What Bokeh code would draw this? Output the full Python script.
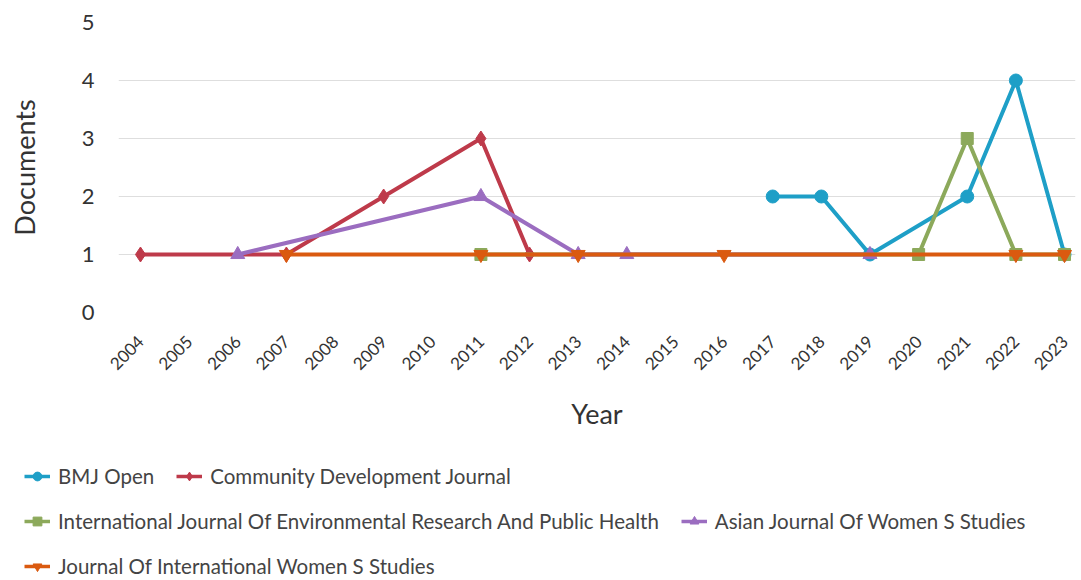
from bokeh.plotting import figure
from bokeh.models import Range1d, FixedTicker, Legend, LegendItem
from bokeh.layouts import column
from bokeh.embed import file_html
from bokeh.resources import INLINE
from math import pi

years = list(range(2004, 2024))
y_ticks = [0, 1, 2, 3, 4, 5]

bmj_years = [2017, 2018, 2019, 2021, 2022, 2023]
bmj_docs = [2, 2, 1, 2, 4, 1]

cdj_years = [2004, 2007, 2009, 2011, 2012]
cdj_docs = [1, 1, 2, 3, 1]

ijerph_years = [2011, 2020, 2021, 2022, 2023]
ijerph_docs = [1, 1, 3, 1, 1]

asian_years = [2006, 2011, 2013, 2014, 2019]
asian_docs = [1, 2, 1, 1, 1]

jiws_years = [2007, 2011, 2013, 2016, 2022, 2023]
jiws_docs = [1, 1, 1, 1, 1, 1]

names = ["BMJ Open", "Community Development Journal",
         "International Journal Of Environmental Research And Public Health",
         "Asian Journal Of Women S Studies",
         "Journal Of International Women S Studies"]

FONT = "Lato"
TXT = "#333333"

p = figure(width=1078, height=440, output_backend="svg", toolbar_location=None,
           x_range=Range1d(2003.548, 2023.226), y_range=Range1d(0, 5),
           min_border_left=118, min_border_right=3, min_border_top=22, min_border_bottom=128)
p.outline_line_color = None
p.xgrid.grid_line_color = None
p.ygrid.grid_line_color = "#dedede"
p.ygrid.grid_line_width = 1

p.xaxis.ticker = FixedTicker(ticks=years)
p.yaxis.ticker = FixedTicker(ticks=y_ticks)
p.xaxis.major_label_orientation = pi / 4
for ax in (p.xaxis, p.yaxis):
    ax.axis_line_color = None
    ax.major_tick_line_color = None
    ax.minor_tick_line_color = None
    ax.major_label_text_font = FONT
    ax.major_label_text_color = TXT
    ax.axis_label_text_font = FONT
    ax.axis_label_text_font_style = "normal"
    ax.axis_label_text_color = TXT
    ax.axis_label_text_font_size = "27px"
p.xaxis.major_label_text_font_size = "17px"
p.yaxis.major_label_text_font_size = "22px"
p.xaxis.axis_label = "Year"
p.yaxis.axis_label = "Documents"
p.yaxis.major_label_standoff = 18
p.xaxis.major_label_standoff = 20
p.xaxis.axis_label_standoff = 18
p.yaxis.axis_label_standoff = 38

series = [
    (bmj_years, bmj_docs, "#1E9FC7", "circle", 13),
    (cdj_years, cdj_docs, "#BE3A4A", "diamond", 15),
    (ijerph_years, ijerph_docs, "#8CA95B", "square", 12),
    (asian_years, asian_docs, "#9B6DC0", "triangle", 14),
    (jiws_years, jiws_docs, "#DA5A10", "inverted_triangle", 14),
]

# legend figure
p2 = figure(width=1078, height=140, output_backend="svg", toolbar_location=None,
            x_range=Range1d(0, 1), y_range=Range1d(0, 1),
            min_border_left=0, min_border_right=0, min_border_top=0, min_border_bottom=0)
p2.axis.visible = False
p2.grid.visible = False
p2.outline_line_color = None
try:
    p2.frame_align = False
    p.frame_align = False
except Exception:
    pass

items = []
for (xs, ys, col, mk, sz), nm in zip(series, names):
    p.line(xs, ys, line_color=col, line_width=4)
    p.scatter(xs, ys, marker=mk, size=sz, fill_color=col, line_color=col)
    l1 = p2.line([-5, -4], [-5, -4], line_color=col, line_width=3.5)
    l2 = p2.scatter([-5], [-5], marker=mk, size=10, fill_color=col, line_color=col)
    items.append(LegendItem(label=nm, renderers=[l1, l2]))

rows = [[items[0], items[1]], [items[2], items[3]], [items[4]]]
bottoms = [92, 47, 2]
for row, b in zip(rows, bottoms):
    lg = Legend(items=row, orientation="horizontal", location=(24, b))
    lg.label_text_font = FONT
    lg.label_text_font_size = "20.5px"
    lg.label_text_color = "#444444"
    lg.glyph_width = 26
    lg.glyph_height = 22
    lg.label_height = 22
    lg.label_standoff = 8
    lg.spacing = 22
    lg.padding = 0
    lg.margin = 0
    lg.border_line_color = None
    lg.background_fill_alpha = 0
    p2.add_layout(lg, "center")

layout = column(p, p2, spacing=0)
open("out.html", "w").write(file_html(layout, INLINE))
